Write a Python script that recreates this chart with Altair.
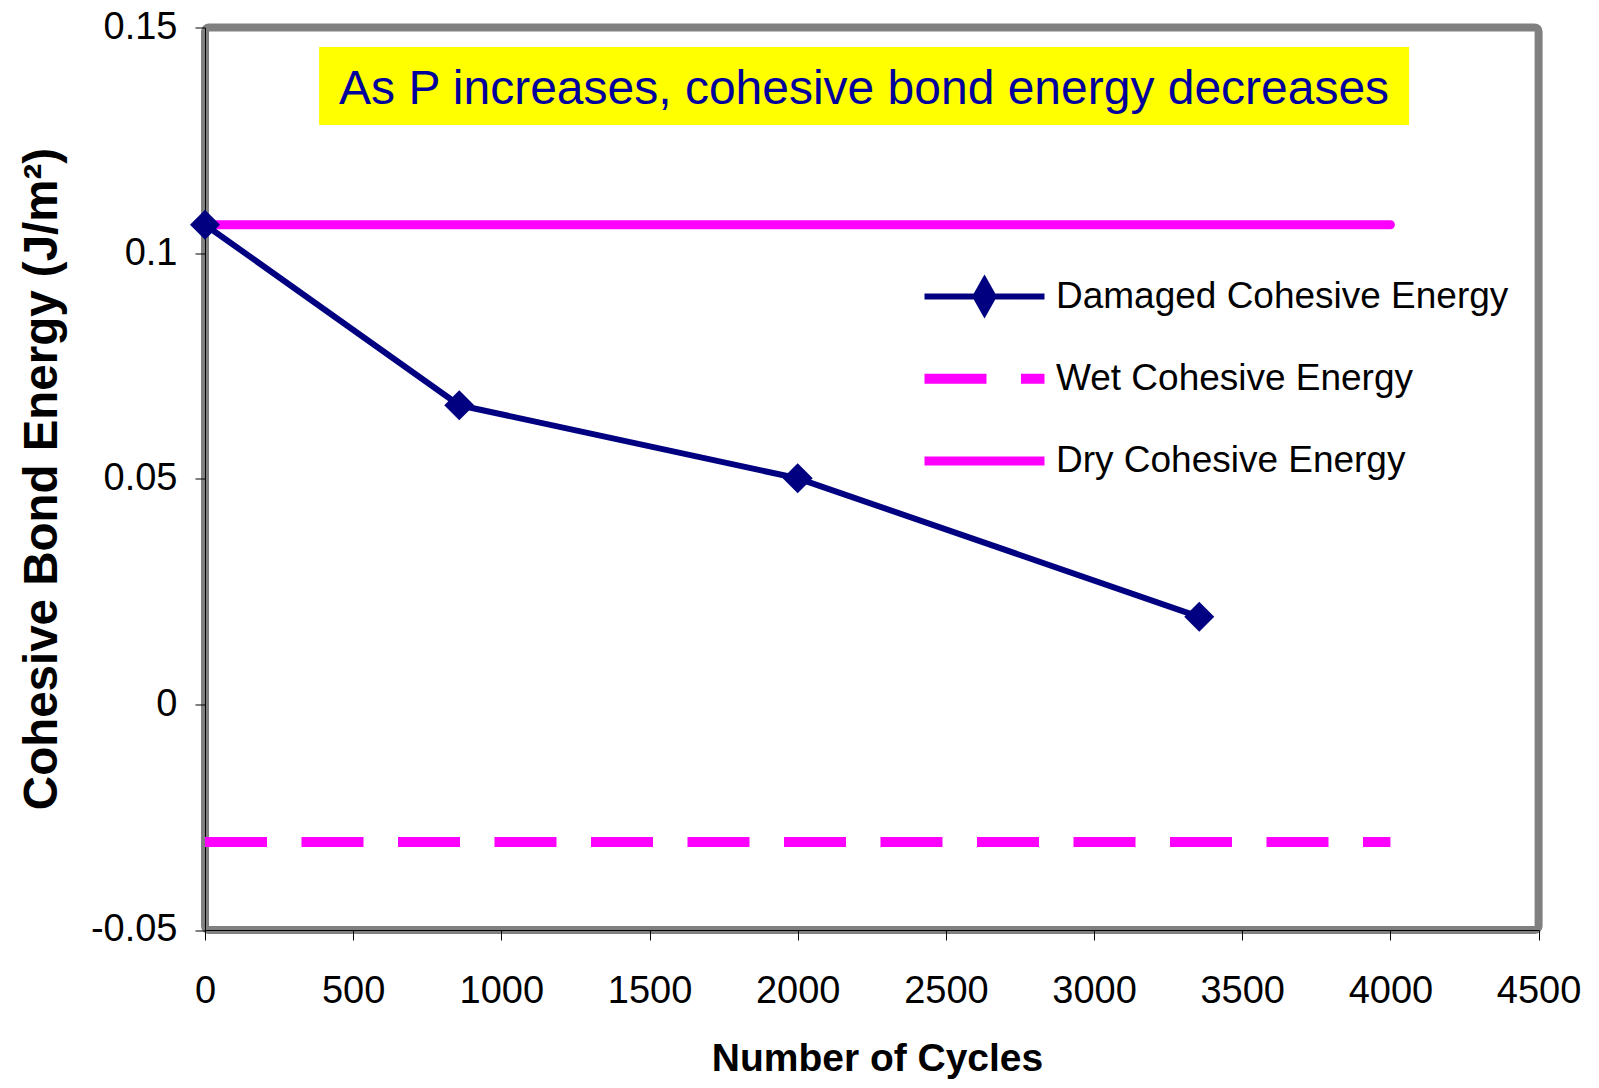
import altair as alt
import pandas as pd

# ---- data ----
series_names = ["Damaged Cohesive Energy", "Wet Cohesive Energy", "Dry Cohesive Energy"]
series_colors = ["#000080", "#FF00FF", "#FF00FF"]

damaged_cycles = [0, 858, 2000, 3355]
damaged_energy = [0.1063, 0.0663, 0.0501, 0.0194]

wet_cycles = [0, 4000]
wet_energy = [-0.0305, -0.0305]

dry_cycles = [0, 4000]
dry_energy = [0.1063, 0.1063]

x_ticks = [0, 500, 1000, 1500, 2000, 2500, 3000, 3500, 4000, 4500]
y_ticks = [-0.05, 0, 0.05, 0.1, 0.15]

note_text = ["As P increases, cohesive bond energy decreases"]
note_box_x = [385, 4063]
note_box_y = [0.1284, 0.1457]
note_text_x = [2224]
note_text_y = [0.13305]

# ---- tables ----
dmg = pd.DataFrame({"cycles": damaged_cycles, "energy": damaged_energy, "series": series_names[0]})
wet = pd.DataFrame({"cycles": wet_cycles, "energy": wet_energy, "series": series_names[1]})
dry = pd.DataFrame({"cycles": dry_cycles, "energy": dry_energy, "series": series_names[2]})
box = pd.DataFrame({"x": [note_box_x[0]], "x2": [note_box_x[1]], "y": [note_box_y[0]], "y2": [note_box_y[1]]})
txt = pd.DataFrame({"x": note_text_x, "y": note_text_y, "t": note_text})

FONT = "Liberation Sans"

x_enc = alt.X(
    "cycles:Q",
    scale=alt.Scale(domain=[x_ticks[0], x_ticks[-1]], nice=False, zero=False),
    axis=alt.Axis(
        values=x_ticks, format="d", title="Number of Cycles", grid=False,
        labelFont=FONT, labelFontSize=38, labelColor="black", labelPadding=33,
        labelFlush=False, labelOverlap=False,
        tickSize=10, tickColor="black", tickWidth=1,
        domainColor="black", domainWidth=1,
        titleFont=FONT, titleFontSize=39, titleFontWeight="bold", titleColor="black",
        titleX=672, titleY=141, titleBaseline="alphabetic", titleAlign="center",
    ),
)
y_enc = alt.Y(
    "energy:Q",
    scale=alt.Scale(domain=[y_ticks[0], y_ticks[-1]], nice=False, zero=False),
    axis=alt.Axis(
        values=y_ticks, labelExpr="'' + datum.value", title="Cohesive Bond Energy (J/m²)",
        grid=False, labelFont=FONT, labelFontSize=38, labelColor="black", labelPadding=18,
        labelFlush=False, labelOverlap=False,
        tickSize=10, tickColor="black", tickWidth=1,
        domainColor="black", domainWidth=1,
        titleFont=FONT, titleFontSize=47.5, titleFontWeight="bold", titleColor="black",
        titleX=-162, titleY=451, titleAngle=270, titleBaseline="middle", titleAlign="center",
    ),
)


def pick(v_dmg, v_wet, v_dry):
    def lit(v):
        if isinstance(v, str):
            return "'" + v + "'"
        if isinstance(v, list):
            return "[" + ",".join(str(a) for a in v) + "]"
        return str(v)
    return alt.ExprRef(expr=(
        f"datum.value === '{series_names[0]}' ? {lit(v_dmg)} : "
        f"(datum.value === '{series_names[1]}' ? {lit(v_wet)} : {lit(v_dry)})"
    ))


legend = alt.Legend(
    title=None, orient="none", legendX=761, legendY=250.5, padding=0,
    symbolType=pick("M-3,0L3,0M-0.45,0L0,-0.8L0.45,0L0,0.8Z", "M-3,0L3,0", "M-3,0L3,0"),
    symbolSize=1600, symbolOffset=0,
    symbolStrokeColor=pick(series_colors[0], series_colors[1], series_colors[2]),
    symbolFillColor=pick(series_colors[0], "transparent", "transparent"),
    symbolStrokeWidth=pick(6, 10, 9),
    symbolDash=pick([1, 0], [62, 34.5], [1, 0]),
    symbolOpacity=1,
    labelFont=FONT, labelFontSize=37,
    labelColor="black", labelOffset=53, labelLimit=0,
    gridAlign="all", rowPadding=33.3,
)

color_enc = alt.Color(
    "series:N",
    scale=alt.Scale(domain=series_names, range=series_colors),
    legend=legend,
)

box_layer = alt.Chart(box).mark_rect(color="#FFFF00").encode(
    x=alt.X("x:Q"), x2="x2:Q", y=alt.Y("y:Q"), y2="y2:Q"
)
text_layer = alt.Chart(txt).mark_text(
    font=FONT, fontSize=48, color="#00009C", align="center", baseline="alphabetic"
).encode(x=alt.X("x:Q"), y=alt.Y("y:Q"), text="t:N")

dry_layer = alt.Chart(dry).mark_line(strokeWidth=9, strokeCap="round").encode(
    x=x_enc, y=y_enc, color=color_enc
)
wet_layer = alt.Chart(wet).mark_line(strokeWidth=10, strokeDash=[62, 34.5], strokeCap="butt").encode(
    x=alt.X("cycles:Q"), y=alt.Y("energy:Q"), color=alt.Color("series:N")
)
dmg_line = alt.Chart(dmg).mark_line(strokeWidth=6, strokeJoin="round").encode(
    x=alt.X("cycles:Q"), y=alt.Y("energy:Q"), color=alt.Color("series:N")
)
dmg_pts = alt.Chart(dmg).mark_point(
    shape="diamond", filled=True, size=900, color=series_colors[0], opacity=1
).encode(x=alt.X("cycles:Q"), y=alt.Y("energy:Q"))

chart = (
    alt.layer(dry_layer, box_layer, text_layer, wet_layer, dmg_line, dmg_pts)
    .properties(
        width=1333.6,
        height=902.5,
        padding={"left": 197, "top": 19.5, "right": 45, "bottom": 150},
        autosize=alt.AutoSizeParams(type="none"),
        background="white",
    )
    .configure_view(stroke="#808080", strokeWidth=8, cornerRadius=4)
)

chart.save("out.html", embed_options={"renderer": "svg", "actions": False})
